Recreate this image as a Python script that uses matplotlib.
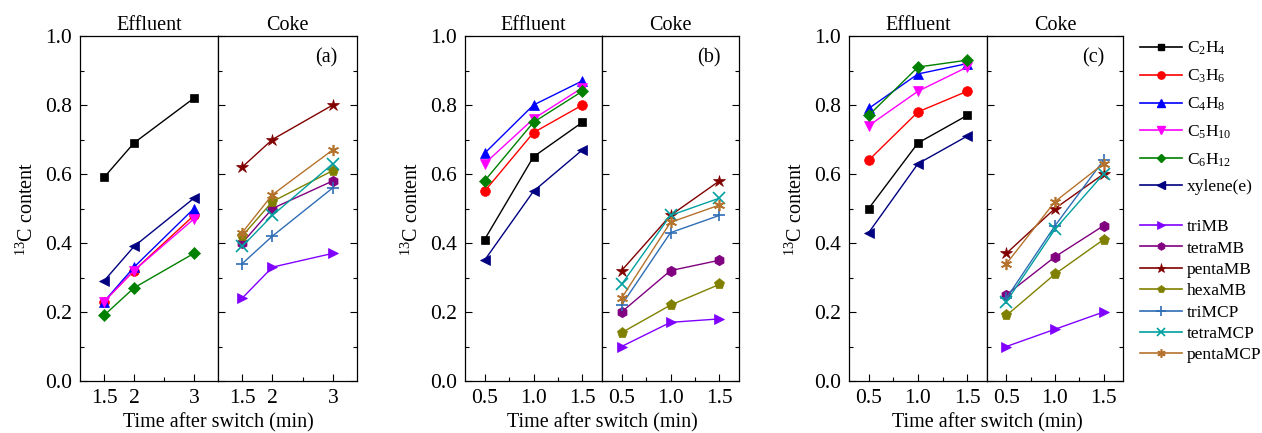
import matplotlib as mpl
import matplotlib.pyplot as plt
from matplotlib.lines import Line2D

mpl.rcParams['font.family'] = ['Liberation Serif', 'DejaVu Serif']
mpl.rcParams['mathtext.fontset'] = 'custom'
mpl.rcParams['mathtext.rm'] = 'Liberation Serif'
mpl.rcParams['mathtext.it'] = 'Liberation Serif:italic'
mpl.rcParams['font.size'] = 13

# ---- data ----
eff_names = ['$\\mathrm{C_2H_4}$', '$\\mathrm{C_3H_6}$', '$\\mathrm{C_4H_8}$',
             '$\\mathrm{C_5H_{10}}$', '$\\mathrm{C_6H_{12}}$', 'xylene(e)']
coke_names = ['triMB', 'tetraMB', 'pentaMB', 'hexaMB', 'triMCP', 'tetraMCP', 'pentaMCP']

x_a = [1.5, 2, 3]
x_bc = [0.5, 1.0, 1.5]

eff_a = [[0.59, 0.69, 0.82],
         [0.23, 0.32, 0.48],
         [0.23, 0.33, 0.50],
         [0.23, 0.32, 0.47],
         [0.19, 0.27, 0.37],
         [0.29, 0.39, 0.53]]
coke_a = [[0.24, 0.33, 0.37],
          [0.40, 0.50, 0.58],
          [0.62, 0.70, 0.80],
          [0.42, 0.52, 0.61],
          [0.34, 0.42, 0.56],
          [0.39, 0.48, 0.63],
          [0.43, 0.54, 0.67]]

eff_b = [[0.41, 0.65, 0.75],
         [0.55, 0.72, 0.80],
         [0.66, 0.80, 0.87],
         [0.63, 0.76, 0.85],
         [0.58, 0.75, 0.84],
         [0.35, 0.55, 0.67]]
coke_b = [[0.10, 0.17, 0.18],
          [0.20, 0.32, 0.35],
          [0.32, 0.48, 0.58],
          [0.14, 0.22, 0.28],
          [0.22, 0.43, 0.48],
          [0.28, 0.48, 0.53],
          [0.24, 0.46, 0.51]]

eff_c = [[0.50, 0.69, 0.77],
         [0.64, 0.78, 0.84],
         [0.79, 0.89, 0.92],
         [0.74, 0.84, 0.91],
         [0.77, 0.91, 0.93],
         [0.43, 0.63, 0.71]]
coke_c = [[0.10, 0.15, 0.20],
          [0.25, 0.36, 0.45],
          [0.37, 0.50, 0.60],
          [0.19, 0.31, 0.41],
          [0.24, 0.45, 0.64],
          [0.23, 0.44, 0.60],
          [0.34, 0.52, 0.63]]

eff_colors = ['black', '#ff0000', '#0000ff', '#ff00ff', '#008000', '#000080']
eff_markers = ['s', 'o', '^', 'v', 'D', '<']
coke_colors = ['#8000ff', '#800080', '#800000', '#808000', '#2f6db5', '#00a0a0', '#b5722c']
coke_markers = ['>', 'h', '*', 'p', '+', 'x', (6, 2, 0)]
msizes = {'s': 6, 'o': 7, '^': 7.5, 'v': 7.5, 'D': 6, '<': 7.5, '>': 7.5, 'h': 7.5,
          '*': 9, 'p': 8, '+': 9, 'x': 8}
thin = ('+', 'x', (6, 2, 0))

W, H = 1262, 433
fig = plt.figure(figsize=(W / 100, H / 100), dpi=100)


def px_axes(x0, x1, y0=36, y1=381):
    return fig.add_axes([x0 / W, 1 - y1 / H, (x1 - x0) / W, (y1 - y0) / H])


def style(ax, xlim, major, minor, labels, left_labels, right_ticks):
    ax.set_xlim(*xlim)
    ax.set_ylim(0, 1.0)
    ax.set_xticks(major)
    ax.set_xticklabels(labels)
    ax.set_xticks(minor, minor=True)
    ax.set_yticks([0, 0.2, 0.4, 0.6, 0.8, 1.0])
    ax.set_yticks([0.1, 0.3, 0.5, 0.7, 0.9], minor=True)
    ax.tick_params(which='both', direction='in', top=False, right=right_ticks,
                   labelsize=15.5, pad=6)
    ax.tick_params(which='major', length=5, width=0.8)
    ax.tick_params(which='minor', length=3, width=0.8)
    if left_labels:
        ax.set_yticklabels(['0.0', '0.2', '0.4', '0.6', '0.8', '1.0'])
    else:
        ax.tick_params(labelleft=False)
    for s in ax.spines.values():
        s.set_linewidth(0.9)


def draw(ax, x, data, colors, markers):
    for ys, c, m in zip(data, colors, markers):
        ax.plot(x, ys, color=c, marker=m, markersize=msizes.get(m, 8), linewidth=1,
                markeredgewidth=1.2 if m in thin else 0.5, markeredgecolor=c)


panels = [
    ((80, 218, 357), x_a, eff_a, coke_a, (1.1, 3.4), [1.5, 2, 3], [2.5], ['1.5', '2', '3'], '(a)'),
    ((465, 602, 739), x_bc, eff_b, coke_b, (0.3, 1.7), [0.5, 1.0, 1.5], [0.75, 1.25],
     ['0.5', '1.0', '1.5'], '(b)'),
    ((849, 987, 1123), x_bc, eff_c, coke_c, (0.3, 1.7), [0.5, 1.0, 1.5], [0.75, 1.25],
     ['0.5', '1.0', '1.5'], '(c)'),
]

for (l, m, r), x, eff, coke, xlim, major, minor, labels, tag in panels:
    ax1 = px_axes(l, m)
    ax2 = px_axes(m, r)
    draw(ax1, x, eff, eff_colors, eff_markers)
    draw(ax2, x, coke, coke_colors, coke_markers)
    style(ax1, xlim, major, minor, labels, True, False)
    style(ax2, xlim, major, minor, labels, False, True)
    ax1.set_title('Effluent', fontsize=14.5, pad=4)
    ax2.set_title('Coke', fontsize=14.5, pad=4)
    ax2.text(0.78, 0.936, tag, transform=ax2.transAxes, fontsize=14.5,
             ha='center', va='center')
    ax1.set_ylabel('$^{13}$C content', fontsize=14.5, labelpad=5)
    fig.text(m / W, 1 - 423 / H, 'Time after switch (min)', fontsize=14.5,
             ha='center', va='center')

# legends
h_eff = [Line2D([], [], color=c, marker=mk, markersize=msizes.get(mk, 8) * 0.75,
                linewidth=1.2, markeredgecolor=c)
         for c, mk in zip(eff_colors, eff_markers)]
h_coke = [Line2D([], [], color=c, marker=mk, markersize=msizes.get(mk, 8) * 0.75,
                 linewidth=1.2, markeredgecolor=c,
                 markeredgewidth=1.2 if mk in thin else 0.5)
          for c, mk in zip(coke_colors, coke_markers)]

fig.legend(h_eff, eff_names, loc='upper left', bbox_to_anchor=(1140 / W, 1 - 40 / H),
           frameon=False, fontsize=12.5, handlelength=2.4, handletextpad=0.3,
           labelspacing=0.6, borderaxespad=0, borderpad=0)
fig.legend(h_coke, coke_names, loc='upper left', bbox_to_anchor=(1140 / W, 1 - 219 / H),
           frameon=False, fontsize=12.5, handlelength=2.4, handletextpad=0.3,
           labelspacing=0.3, borderaxespad=0, borderpad=0)

fig.savefig('out.png', dpi=100)
